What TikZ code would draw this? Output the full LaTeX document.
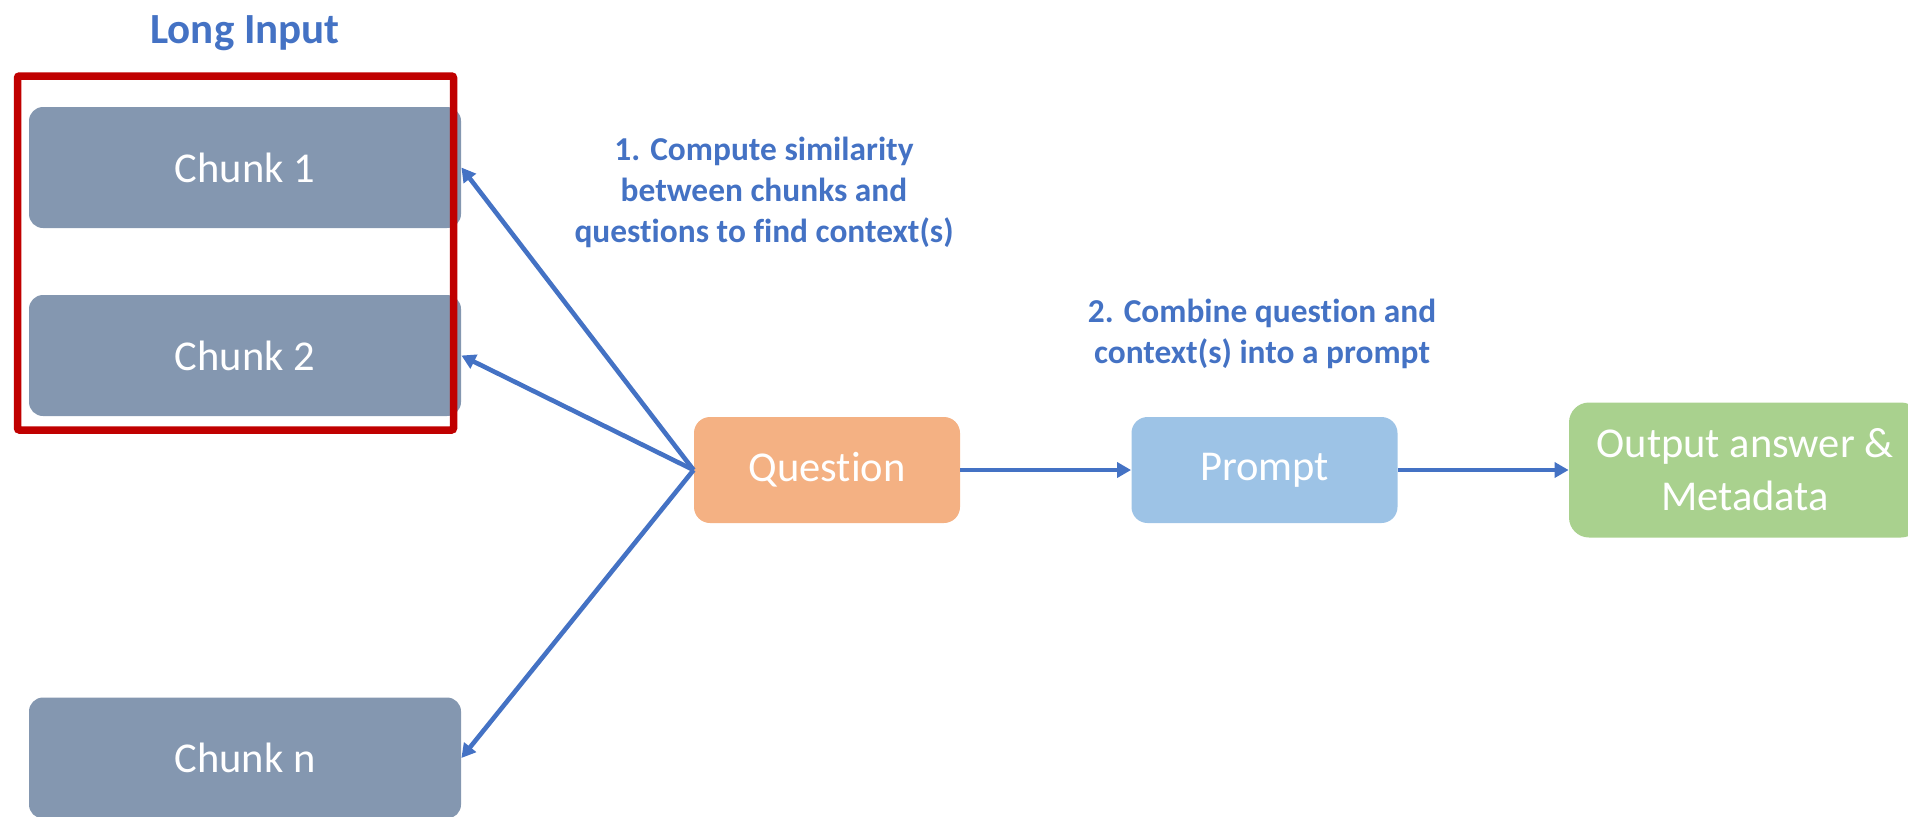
\documentclass[tikz,border=0pt]{standalone}
\usepackage{fontspec}
\setmainfont{Carlito}[Ligatures=NoCommon]
\usetikzlibrary{arrows.meta}
\definecolor{chunkgray}{HTML}{8497B0}
\definecolor{qorange}{HTML}{F4B183}
\definecolor{pblue}{HTML}{9DC3E6}
\definecolor{ogreen}{HTML}{A9D18E}
\definecolor{framered}{HTML}{C00000}
\definecolor{inkblue}{HTML}{4472C4}
\begin{document}
\begin{tikzpicture}[x=0.5pt,y=-0.5pt,
  box/.style={inner sep=0pt, text=white, font=\fontsize{21.25}{26.5}\selectfont},
  chunkbox/.style={box, fill=chunkgray, rounded corners=7pt, minimum width=216pt, minimum height=60.5pt},
  stagebox/.style={box, rounded corners=8pt, minimum width=133pt, minimum height=53pt},
  note/.style={inner sep=0pt, align=center, text=inkblue, font=\bfseries\fontsize{16.7}{20.5}\selectfont},
  arr/.style={draw=inkblue, line width=2.3pt, -{Triangle[length=7pt,width=7.5pt]}}]
\useasboundingbox (0,0) rectangle (1908,816);
\clip (0,0) rectangle (1908,816);

% input chunks
\node[chunkbox] (chunk1) at (245,167.5) {Chunk 1};
\node[chunkbox] (chunk2) at (245,355.5) {Chunk 2};
\node[chunkbox] (chunkn) at (245,758) {Chunk n};

% frame around the first chunks
\node[draw=framered, line width=3.75pt, rounded corners=1pt, inner sep=0pt,
      minimum width=218pt, minimum height=177pt] (frame) at (235.5,253) {};
\node[anchor=base, inner sep=0pt, text=inkblue, font=\bfseries\fontsize{21.5}{26}\selectfont]
  (title) at (245,43) {Long Input};

% pipeline stages
\node[stagebox, fill=qorange] (question) at (827,470) {Question};
\node[stagebox, fill=pblue] (prompt) at (1264.5,470) {Prompt};
\node[box, fill=ogreen, rounded corners=10pt, minimum width=176pt, minimum height=67.5pt, align=center]
  (output) at (1745,470) {Output answer \&\\Metadata};

% step annotations
\node[note] (step1) at (764,192) {1. Compute similarity\\between chunks and\\questions to find context(s)};
\node[note] (step2) at (1262,334) {2. Combine question and\\context(s) into a prompt};

% connectors
\draw[arr] (question.west) -- (chunk1.east);
\draw[arr] (question.west) -- (chunk2.east);
\draw[arr] (question.west) -- (chunkn.east);
\draw[arr] (question.east) -- (prompt.west);
\draw[arr] (prompt.east) -- (output.west);
\end{tikzpicture}
\end{document}
